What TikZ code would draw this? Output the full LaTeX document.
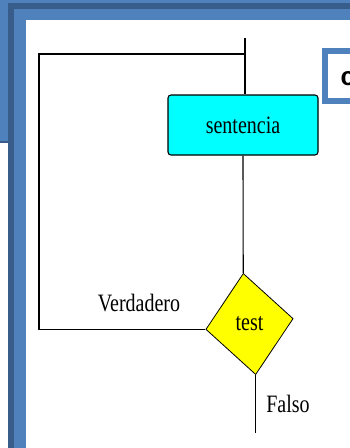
\documentclass[tikz,border=0pt]{standalone}
\usepackage{fontspec}
\setmainfont{Liberation Serif}
\setsansfont{Liberation Sans}
\usetikzlibrary{shapes.geometric}
\definecolor{azulmarco}{RGB}{79,129,189}
\definecolor{azuloscuro}{RGB}{56,93,138}
\definecolor{celeste}{RGB}{0,255,255}
\definecolor{amarillo}{RGB}{255,255,0}

\begin{document}
\begin{tikzpicture}[x=1pt,y=-1pt,line width=1.1pt,
  bloque/.style={draw,fill=celeste,rounded corners=3pt,minimum width=150pt,minimum height=60pt,inner sep=0pt},
  decision/.style={diamond,draw,line width=0.8pt,fill=amarillo,minimum width=88pt,minimum height=102pt,inner sep=0pt},
  texto/.style={font=\fontsize{20}{24}\selectfont,inner sep=0pt,yscale=1.25}]
\useasboundingbox (0,0) rectangle (350,448);
\clip (0,0) rectangle (350,448);
\fill[azulmarco] (0,0) rectangle (350,448);
\fill[azuloscuro] (8,3) rectangle (350,448);
\fill[azulmarco] (14,9) rectangle (350,448);
\fill[white] (26,20) rectangle (350,448);
\fill[white] (0,143) rectangle (8,448);
\draw[azuloscuro,line width=2pt] (0,142) -- (8,142);
\draw[azulmarco,line width=6pt,fill=white] (325,51) rectangle (362,101);
\node[anchor=west,font=\sffamily\bfseries\fontsize{26}{30}\selectfont,inner sep=0pt] (nota) at (340,79) {c};

\node[bloque] (sentencia) at (243,125) {};
\node[texto] (sentlabel) at (sentencia.center) {sentencia};
\node[decision,rotate=7] (test) at (249.5,324) {};
\node[texto] (testlabel) at (test.center) {test};
\node[texto] (verdadero) at (139,303) {Verdadero};
\node[texto] (falso) at (288,404) {Falso};

\coordinate (ini) at (245,38);
\coordinate (esq) at (39,54);
\coordinate (union) at (245,54);
\coordinate (fin) at (0,433);
\draw (ini) -- (ini |- sentencia.north);
\draw (sentencia.south) -- (test.north);
\draw (test.west) -| (esq) -- (union);
\draw (test.south) -- (test.south |- fin);
\end{tikzpicture}
\end{document}
